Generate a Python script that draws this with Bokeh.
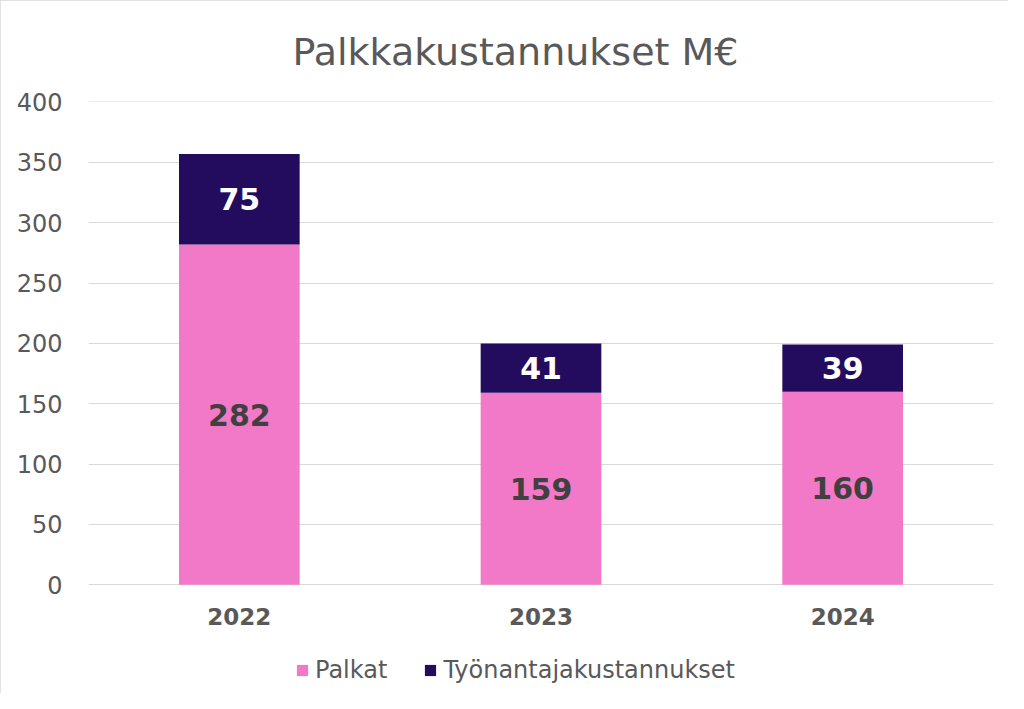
from bokeh.plotting import figure
from bokeh.models import ColumnDataSource, Range1d, FactorRange, Legend, LegendItem
from bokeh.core.properties import value
from bokeh.embed import file_html
from bokeh.resources import INLINE

years = ["2022", "2023", "2024"]
palkat = [282, 159, 160]
tyonantaja = [75, 41, 39]
series_names = ["Palkat", "Työnantajakustannukset"]
colors = ["#F279C7", "#230C5E"]
title_text = "Palkkakustannukset M€"
y_ticks = [0, 50, 100, 150, 200, 250, 300, 350, 400]

FONT = "DejaVu Sans"
GREY = "#595959"

src = ColumnDataSource(dict(
    year=years,
    palkat=palkat,
    tyon=tyonantaja,
    palkat_mid=[v / 2 for v in palkat],
    tyon_mid=[a + b / 2 for a, b in zip(palkat, tyonantaja)],
    palkat_lbl=[str(v) for v in palkat],
    tyon_lbl=[str(v) for v in tyonantaja],
    cat_y=[-26] * len(years),
))

p = figure(x_range=FactorRange(*years, range_padding=0), y_range=Range1d(-87.6, 400.4),
           width=1008, height=693, output_backend="svg", toolbar_location=None,
           min_border_left=88, min_border_right=15, min_border_top=100, min_border_bottom=3)

r = p.vbar_stack(["palkat", "tyon"], x="year", width=0.40, color=colors, source=src,
                 line_color=None)

p.text(x="year", y="palkat_mid", text="palkat_lbl", source=src, text_align="center",
       text_baseline="middle", text_color="#404040", text_font=value(FONT),
       text_font_style="bold", text_font_size="30px")
p.text(x="year", y="tyon_mid", text="tyon_lbl", source=src, text_align="center",
       text_baseline="middle", text_color="white", text_font=value(FONT),
       text_font_style="bold", text_font_size="30px")
# category labels (x axis)
p.text(x="year", y="cat_y", text="year", source=src, text_align="center",
       text_baseline="middle", text_color=GREY, text_font=value(FONT),
       text_font_style="bold", text_font_size="23px")

p.title.text = title_text
p.title.align = "left"
p.title.offset = 204
p.title.text_font = FONT
p.title.text_font_size = "38px"
p.title.text_font_style = "normal"
p.title.text_color = GREY
p.title.standoff = 55

p.yaxis.ticker = y_ticks
p.yaxis.axis_line_color = None
p.yaxis.major_tick_line_color = None
p.yaxis.minor_tick_line_color = None
p.yaxis.major_label_text_font = FONT
p.yaxis.major_label_text_font_size = "24px"
p.yaxis.major_label_text_color = GREY
p.yaxis.major_label_standoff = 20

p.xaxis.visible = False

p.xgrid.grid_line_color = None
p.ygrid.ticker = y_ticks
p.ygrid.grid_line_color = "#D9D9D9"
p.ygrid.grid_line_width = 1
p.outline_line_color = None

legend = Legend(items=[LegendItem(label=n, renderers=[rr]) for n, rr in zip(series_names, r)],
                orientation="horizontal", location=(207, 6))
legend.label_text_font = FONT
legend.label_text_font_size = "24px"
legend.label_text_color = GREY
legend.glyph_width = 14
legend.glyph_height = 14
legend.spacing = 36
legend.label_standoff = 6
legend.border_line_color = None
legend.background_fill_alpha = 0
legend.margin = 0
legend.padding = 0
p.add_layout(legend)

p.styles = {"outline": "1px solid #D9D9D9", "outline-offset": "-1px"}

open("out.html", "w").write(file_html(p, INLINE))
